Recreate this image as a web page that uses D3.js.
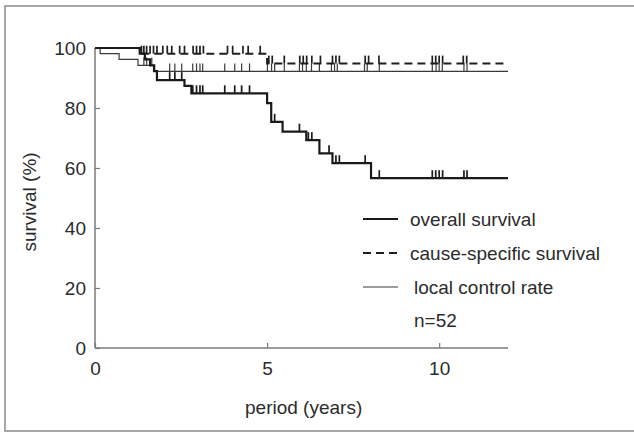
<!DOCTYPE html>
<html>
<head>
<meta charset="utf-8">
<script src="https://cdn.jsdelivr.net/npm/d3@7"></script>
<style>
  body { margin: 0; background: #fff; }
  text { font-family: "Liberation Sans", Arial, "Noto Sans CJK JP", sans-serif; fill: #2b2b2b; }
</style>
</head>
<body>
<svg id="chart" width="634" height="434"></svg>
<script>
// Kaplan-Meier steps: [time in years, survival %]
var overallSteps = [[0, 100], [1.3, 98.1], [1.45, 96.2], [1.6, 94.2], [1.72, 92.3], [1.8, 89.3],
  [2.6, 87.4], [2.8, 84.9], [5.0, 81.6], [5.12, 75.4], [5.45, 72.1], [6.14, 69.3],
  [6.52, 64.9], [6.9, 61.6], [8.02, 56.6]];
var causeSteps = [[0, 100], [1.3, 98.1], [5.0, 94.8]];
var localSteps = [[0, 100], [0.15, 98.1], [0.7, 96.2], [1.25, 94.2], [1.7, 92.2]];
var endTime = 12;

// censored times (years)
var overallCensor = [2.17, 2.32, 2.52, 2.84, 2.95, 3.05, 3.13, 3.77, 4.06, 4.26, 4.49,
  5.22, 5.94, 6.2, 6.3, 6.8, 7.0, 7.1, 7.85, 8.26, 9.8, 9.9, 10.0, 10.1, 10.72, 10.81];
var causeCensor = [1.35, 1.42, 1.5, 1.6, 1.7, 1.8, 1.97, 2.1, 2.23, 2.46, 2.6, 2.85, 2.95,
  3.05, 3.15, 3.85, 4.0, 4.3, 4.45, 4.8, 5.05, 5.15, 5.5, 5.95, 6.05, 6.15, 6.3, 6.55,
  6.9, 7.0, 7.1, 7.85, 7.95, 8.25, 9.8, 9.9, 10.0, 10.1, 10.7, 10.8];
var localCensor = [1.42, 1.5, 1.65, 2.17, 2.32, 2.52, 2.84, 2.95, 3.05, 3.13, 3.77, 4.06,
  4.26, 4.49, 5.01, 5.13, 5.22, 5.5, 5.94, 6.03, 6.14, 6.29, 6.52, 6.87, 6.96, 7.04,
  7.83, 7.91, 8.26, 9.8, 9.91, 10.0, 10.09, 10.72, 10.81];

var xTicks = [0, 5, 10];
var yTicks = [0, 20, 40, 60, 80, 100];
var legendLabels = ["overall survival", "cause-specific survival", "local control rate"];

var svg = d3.select("#chart");

// outer frame
svg.append("rect")
  .attr("x", 5).attr("y", 6).attr("width", 640).attr("height", 425)
  .attr("fill", "none").attr("stroke", "#8a8a8a").attr("stroke-width", 1.5);

var x = d3.scaleLinear().domain([0, 12]).range([95, 508]);
var y = d3.scaleLinear().domain([0, 100]).range([348, 48]);

var axisColor = "#7a7a7a";

// y axis, ticks inside
var yAxis = svg.append("g")
  .attr("transform", "translate(" + x(0) + ",0)")
  .call(d3.axisLeft(y).tickValues(yTicks).tickSize(-5).tickPadding(9));
yAxis.select(".domain").attr("stroke", axisColor).attr("stroke-width", 1.5).attr("d", "M0," + y(0) + "V" + y(100));
yAxis.selectAll(".tick line").attr("stroke", axisColor).attr("stroke-width", 1.2);
yAxis.selectAll(".tick text").style("font-size", "19px").attr("fill", "#2b2b2b");

// x axis, ticks up
var xAxis = svg.append("g")
  .attr("transform", "translate(0," + y(0) + ")")
  .call(d3.axisBottom(x).tickValues(xTicks).tickSize(-5).tickPadding(14));
xAxis.select(".domain").attr("stroke", axisColor).attr("stroke-width", 1.5).attr("d", "M" + x(0) + ",0H" + x(12));
xAxis.selectAll(".tick line").attr("stroke", axisColor).attr("stroke-width", 1.2);
xAxis.selectAll(".tick text").style("font-size", "19px").attr("fill", "#2b2b2b");

// axis titles
svg.append("text")
  .attr("transform", "translate(36," + 202 + ") rotate(-90)")
  .attr("text-anchor", "middle")
  .style("font-size", "19px")
  .text("survival (%)");
svg.append("text")
  .attr("x", 245).attr("y", 414)
  .style("font-size", "19px")
  .text("period (years)");

function stepPath(steps) {
  var pts = steps.concat([[endTime, steps[steps.length - 1][1]]]);
  var line = d3.line().x(d => x(d[0])).y(d => y(d[1])).curve(d3.curveStepAfter);
  return line(pts);
}

function valueAt(steps, t) {
  var v = steps[0][1];
  steps.forEach(s => { if (s[0] <= t) v = s[1]; });
  return v;
}

var series = [
  {steps: localSteps, censor: localCensor, width: 1.2, color: "#3a3a3a", dash: null},
  {steps: causeSteps, censor: causeCensor, width: 2, color: "#1e1e1e", dash: "8,5"},
  {steps: overallSteps, censor: overallCensor, width: 2.2, color: "#1a1a1a", dash: null}
];

series.forEach(s => {
  svg.append("path")
    .attr("d", stepPath(s.steps))
    .attr("fill", "none")
    .attr("stroke", s.color)
    .attr("stroke-width", s.width)
    .attr("stroke-dasharray", s.dash);

  svg.append("g").selectAll("line")
    .data(s.censor)
    .enter()
    .append("line")
    .attr("x1", d => x(d)).attr("x2", d => x(d))
    .attr("y1", d => y(valueAt(s.steps, d)))
    .attr("y2", d => y(valueAt(s.steps, d)) - 8)
    .attr("stroke", s.color)
    .attr("stroke-width", s.width > 1.5 ? 1.7 : 1.2);
});

// legend
var legendY = [219, 253, 287];
var legendStyle = [
  {width: 2.2, dash: null, color: "#1a1a1a", tx: 410},
  {width: 2, dash: "8,5", color: "#1e1e1e", tx: 410},
  {width: 1.2, dash: null, color: "#3a3a3a", tx: 414}
];
legendLabels.forEach((label, i) => {
  svg.append("line")
    .attr("x1", 363).attr("x2", 398)
    .attr("y1", legendY[i]).attr("y2", legendY[i])
    .attr("stroke", legendStyle[i].color)
    .attr("stroke-width", legendStyle[i].width)
    .attr("stroke-dasharray", legendStyle[i].dash);
  svg.append("text")
    .attr("x", legendStyle[i].tx).attr("y", legendY[i] + 7)
    .style("font-size", "19px")
    .text(label);
});
svg.append("text")
  .attr("x", 414).attr("y", 327)
  .style("font-size", "19px")
  .text("n=52");
</script>
</body>
</html>
